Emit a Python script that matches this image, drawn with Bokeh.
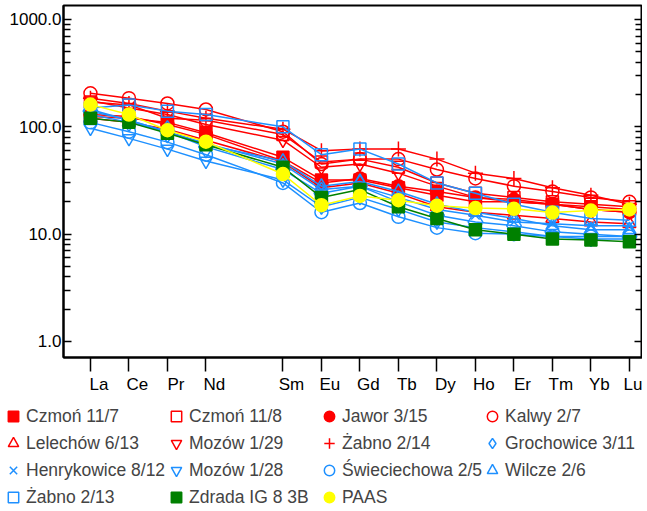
from bokeh.plotting import figure
from bokeh.models import (Range1d, FixedTicker, LogAxis, LinearAxis, Legend, LegendItem,
                          NumeralTickFormatter)
from bokeh.layouts import column
from bokeh.embed import file_html
from bokeh.resources import INLINE

elements = ["La", "Ce", "Pr", "Nd", "Sm", "Eu", "Gd", "Tb", "Dy", "Ho", "Er", "Tm", "Yb", "Lu"]
atomic_numbers = [57, 58, 59, 60, 62, 63, 64, 65, 66, 67, 68, 69, 70, 71]

czmon_11_7 = [125, 120, 110, 88, 52, 32, 32, 27, 23, 20, 20, 19, 18, 17]
czmon_11_8 = [170, 160, 120, 115, 85, 47, 50, 42, 30, 24, 22, 20, 19, 18]
jawor_3_15 = [130, 125, 105, 85, 48, 30, 33, 28, 25, 22, 21, 19, 17, 16]
kalwy_2_7 = [205, 185, 165, 145, 90, 45, 50, 50, 40, 33, 28, 25, 22, 20]
lelechow_6_13 = [120, 110, 95, 75, 47, 27, 30, 24, 18, 16, 15, 14, 13, 12.5]
mozow_1_29 = [175, 150, 130, 105, 75, 42, 45, 37, 28, 22, 20, 19, 17, 16]
zabno_2_14 = [185, 165, 140, 120, 95, 60, 62, 62, 50, 37, 33, 27, 23, 19]
grochowice_3_11 = [140, 115, 90, 65, 40, 24, 28, 20, 15, 13, 12, 10.5, 10, 9.5]
henrykowice_8_12 = [145, 115, 90, 70, 45, 26, 28, 22, 17, 15, 13, 12.5, 12, 12]
mozow_1_28 = [97, 78, 62, 48, 32, 18, 22, 17, 13, 11.5, 10.5, 9.5, 9, 9]
swieciechowa_2_5 = [110, 90, 72, 55, 30, 16, 19.5, 14.5, 11.5, 10.2, 10, 9.5, 9.5, 9.5]
wilcze_2_6 = [130, 110, 90, 68, 48, 28, 31, 25, 19, 16, 14, 12, 11, 11]
zabno_2_13 = [150, 160, 140, 130, 100, 55, 62, 45, 30, 24, 19, 16, 14, 13.5]
zdrada_ig8_3b = [120, 110, 87, 68, 42, 22, 26, 18, 14, 11, 10, 9, 8.8, 8.5]
paas = [161, 130, 93, 72.6, 36.3, 18.6, 22.7, 20.7, 18.4, 17.5, 17.2, 15.9, 16.6, 17.0]

RED, BLUE, GREEN, YELLOW = "#FF0000", "#1E90FF", "#008000", "#FFFF00"

series = [
    ("Czmoń 11/7", czmon_11_7, RED, "square", True, 12),
    ("Czmoń 11/8", czmon_11_8, RED, "square", False, 12),
    ("Jawor 3/15", jawor_3_15, RED, "circle", True, 13),
    ("Kalwy 2/7", kalwy_2_7, RED, "circle", False, 13),
    ("Lelechów 6/13", lelechow_6_13, RED, "triangle", False, 13),
    ("Mozów 1/29", mozow_1_29, RED, "inverted_triangle", False, 13),
    ("Żabno 2/14", zabno_2_14, RED, "cross", False, 15),
    ("Grochowice 3/11", grochowice_3_11, BLUE, "diamond", False, 22),
    ("Henrykowice 8/12", henrykowice_8_12, BLUE, "x", False, 12),
    ("Mozów 1/28", mozow_1_28, BLUE, "inverted_triangle", False, 13),
    ("Świeciechowa 2/5", swieciechowa_2_5, BLUE, "circle", False, 13),
    ("Wilcze 2/6", wilcze_2_6, BLUE, "triangle", False, 13),
    ("Żabno 2/13", zabno_2_13, BLUE, "square", False, 12),
    ("Zdrada IG 8 3B", zdrada_ig8_3b, GREEN, "square", True, 12),
    ("PAAS", paas, YELLOW, "circle", True, 13),
]

FONT = "Liberation Sans"

p = figure(width=642, height=398, y_axis_type="log",
           x_range=Range1d(56.3, 71.34), y_range=Range1d(0.709, 1350),
           output_backend="svg", toolbar_location=None,
           min_border_left=63, min_border_right=0, min_border_top=5,
           min_border_bottom=41)
p.frame_align = False
p.xgrid.visible = False
p.ygrid.visible = False
p.outline_line_color = "black"
p.outline_line_width = 2
p.background_fill_color = "white"
p.border_fill_color = "white"

# x axis: ticks at the elements, labels drawn by a second axis set slightly right
xa = p.xaxis[0]
xa.ticker = FixedTicker(ticks=atomic_numbers, minor_ticks=[])
xa.major_tick_in = 0
xa.major_tick_out = 14
xa.minor_tick_in = 0
xa.minor_tick_out = 0
xa.major_tick_line_width = 1.5
xa.axis_line_width = 2
xa.major_label_standoff = 0
xa.major_label_text_font_size = "1px"
xa.major_label_text_color = None

label_pos = [round(n + 0.22, 2) for n in atomic_numbers]
xl = LinearAxis(ticker=FixedTicker(ticks=label_pos, minor_ticks=[]),
                major_label_overrides={k: e for k, e in zip(label_pos, elements)},
                axis_line_color=None, major_tick_line_color=None,
                minor_tick_line_color=None, major_tick_in=0, major_tick_out=0,
                minor_tick_in=0, minor_tick_out=0, major_label_standoff=3,
                major_label_text_font=FONT, major_label_text_font_size="17px",
                major_label_text_color="black")
p.add_layout(xl, "below")

# left y axis
minor = [m * 10 ** e for e in range(0, 3) for m in range(2, 10)]
ya = p.yaxis[0]
ya.ticker = FixedTicker(ticks=[1, 10, 100, 1000], minor_ticks=minor)
ya.formatter = NumeralTickFormatter(format="0.0")
ya.major_tick_in = 8
ya.major_tick_out = 0
ya.minor_tick_in = 7
ya.minor_tick_out = 0
ya.major_tick_line_width = 1.5
ya.minor_tick_line_width = 1.5
ya.axis_line_width = 2
ya.major_label_standoff = 2
ya.major_label_text_font = FONT
ya.major_label_text_font_size = "17px"
ya.major_label_text_color = "black"

ra = LogAxis(ticker=FixedTicker(ticks=[1, 10, 100, 1000], minor_ticks=minor),
             major_tick_in=8, major_tick_out=0, minor_tick_in=7, minor_tick_out=0,
             major_tick_line_width=1.5, minor_tick_line_width=1.5,
             axis_line_width=2, major_label_text_font_size="1px",
             major_label_text_color=None, major_label_standoff=0)
p.add_layout(ra, "right")

# legend-only panel below the chart (markers kept outside its visible range)
LH = 112
lp = figure(width=642, height=LH, x_range=Range1d(0, 1), y_range=Range1d(0, 1),
            x_axis_location=None, y_axis_location=None,
            output_backend="svg", toolbar_location=None,
            min_border_left=0, min_border_right=0, min_border_top=0,
            min_border_bottom=0)
lp.frame_align = False
lp.xgrid.visible = False
lp.ygrid.visible = False
lp.outline_line_color = None
lp.background_fill_color = "white"
lp.border_fill_color = "white"

legend_renderers = []
for label, vals, color, marker, filled, size in series:
    style = dict(marker=marker, size=size, line_color=color, line_width=1.5,
                 fill_color=color if filled else None)
    p.line(atomic_numbers, vals, line_color=color, line_width=1.5)
    p.scatter(atomic_numbers, vals, **style)
    r = lp.scatter(atomic_numbers, vals, **style)
    legend_renderers.append((label, r))

columns = [[0, 4, 8, 12], [1, 5, 9, 13], [2, 6, 10, 14], [3, 7, 11]]
col_x = [0, 163, 316, 479]
for ci, idxs in enumerate(columns):
    items = [LegendItem(label=legend_renderers[i][0], renderers=[legend_renderers[i][1]])
             for i in idxs]
    n = len(idxs)
    bottom = 5 + n * 26 + (n - 1) * 1
    leg = Legend(items=items, location=(col_x[ci], LH - bottom),
                 orientation="vertical", border_line_color=None,
                 background_fill_alpha=0, padding=0, margin=0, spacing=1,
                 glyph_width=26, glyph_height=26, label_height=26,
                 label_standoff=0, label_text_font=FONT,
                 label_text_font_size="17.5px", label_text_baseline="middle")
    lp.add_layout(leg)

layout = column(p, lp, spacing=0)
open("out.html", "w").write(file_html(layout, INLINE))
